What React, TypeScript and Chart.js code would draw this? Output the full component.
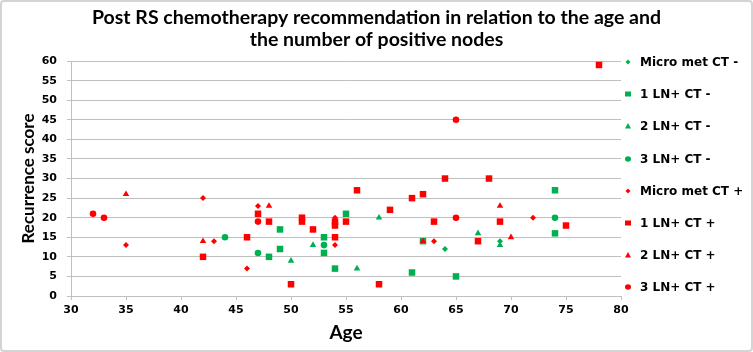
import React, { useEffect, useRef } from 'react';
import { Chart, registerables } from 'chart.js';

Chart.register(...registerables);

// ---------- Data ----------
const TITLE_LINES = [
  'Post RS chemotherapy recommendation in relation to the age and',
  'the number of positive nodes',
];
const X_TITLE = 'Age';
const Y_TITLE = 'Recurrence score';
const X_MIN = 30;
const X_MAX = 80;
const X_STEP = 5;
const Y_MIN = 0;
const Y_MAX = 60;
const Y_STEP = 5;

const SERIES_LABELS = [
  'Micro met CT -',
  '1 LN+ CT -',
  '2 LN+ CT -',
  '3 LN+ CT -',
  'Micro met CT +',
  '1 LN+ CT +',
  '2 LN+ CT +',
  '3 LN+ CT +',
];

const microNegAge = [54, 64, 69];
const microNegRS = [18, 12, 14];

const ln1NegAge = [48, 49, 49, 53, 53, 54, 55, 61, 62, 65, 74, 74];
const ln1NegRS = [10, 17, 12, 15, 11, 7, 21, 6, 14, 5, 27, 16];

const ln2NegAge = [50, 52, 56, 58, 67, 69];
const ln2NegRS = [9, 13, 7, 20, 16, 13];

const ln3NegAge = [44, 47, 53, 74];
const ln3NegRS = [15, 11, 13, 20];

const microPosAge = [35, 42, 43, 46, 47, 54, 54, 63, 72];
const microPosRS = [13, 25, 14, 7, 23, 20, 13, 14, 20];

const ln1PosAge = [42, 46, 47, 48, 50, 51, 51, 52, 54, 54, 54, 55, 56, 58, 59, 61, 62, 63, 64, 67, 68, 69, 75, 78];
const ln1PosRS = [10, 15, 21, 19, 3, 20, 19, 17, 19, 18, 15, 19, 27, 3, 22, 25, 26, 19, 30, 14, 30, 19, 18, 59];

const ln2PosAge = [35, 42, 48, 62, 69, 70];
const ln2PosRS = [26, 14, 23, 14, 23, 15];

const ln3PosAge = [32, 33, 47, 65, 65];
const ln3PosRS = [21, 20, 19, 45, 20];

const SERIES_AGES = [microNegAge, ln1NegAge, ln2NegAge, ln3NegAge, microPosAge, ln1PosAge, ln2PosAge, ln3PosAge];
const SERIES_RS = [microNegRS, ln1NegRS, ln2NegRS, ln3NegRS, microPosRS, ln1PosRS, ln2PosRS, ln3PosRS];

// ---------- Styles ----------
const GREEN = '#00B050';
const RED = '#FF0000';
const SERIES_COLORS = [GREEN, GREEN, GREEN, GREEN, RED, RED, RED, RED];
const SERIES_SHAPES = ['rectRot', 'rect', 'triangle', 'circle', 'rectRot', 'rect', 'triangle', 'circle'];
const SHAPE_RADIUS: Record<string, number> = { rectRot: 3, rect: 4.6, triangle: 3.8, circle: 3.3 };

const W = 753;
const H = 352;

function LegendMarker({ shape, color }: { shape: string; color: string }) {
  let el: React.ReactNode = null;
  if (shape === 'rectRot') el = <polygon points="5,2.5 7.5,5 5,7.5 2.5,5" fill={color} />;
  else if (shape === 'rect') el = <rect x={2} y={2.5} width={6} height={5} fill={color} />;
  else if (shape === 'triangle') el = <polygon points="5,2 8,7.5 2,7.5" fill={color} />;
  else el = <ellipse cx={5} cy={5} rx={3} ry={2.8} fill={color} />;
  return (
    <svg width={10} height={10} style={{ display: 'block' }}>
      {el}
    </svg>
  );
}

export default function App() {
  const canvasRef = useRef<HTMLCanvasElement | null>(null);

  useEffect(() => {
    document.body.style.margin = '0';
    const canvas = canvasRef.current;
    if (!canvas) return;
    const datasets = SERIES_LABELS.map((label, i) => ({
      label,
      data: SERIES_AGES[i].map((a, j) => ({ x: a, y: SERIES_RS[i][j] })),
      pointStyle: SERIES_SHAPES[i] as any,
      pointRadius: SHAPE_RADIUS[SERIES_SHAPES[i]],
      pointHoverRadius: SHAPE_RADIUS[SERIES_SHAPES[i]],
      backgroundColor: SERIES_COLORS[i],
      borderColor: SERIES_COLORS[i],
      borderWidth: 0,
      showLine: false,
      order: i < 4 ? 1 : 0,
    }));

    const chart = new Chart(canvas, {
      type: 'scatter',
      data: { datasets },
      options: {
        responsive: false,
        animation: false,
        devicePixelRatio: 1,
        layout: { padding: { left: 0, right: 0, top: 0, bottom: 0 } },
        plugins: {
          legend: { display: false },
          tooltip: { enabled: false },
          title: {
            display: true,
            text: TITLE_LINES,
            color: '#000',
            font: { family: 'Lato', size: 19.5, weight: 'bold', lineHeight: 1.13 },
            padding: { top: 7, bottom: 10 },
          },
        },
        scales: {
          x: {
            type: 'linear',
            min: X_MIN,
            max: X_MAX,
            afterFit: (scale: any) => {
              scale.height = 56;
            },
            ticks: {
              stepSize: X_STEP,
              color: '#000',
              padding: 4,
              font: { family: 'DejaVu Sans', size: 11, weight: 'bold' },
            },
            grid: {
              drawOnChartArea: false,
              drawTicks: true,
              tickLength: 4,
              color: '#BFBFBF',
            },
            border: { display: true, color: '#BFBFBF', width: 1 },
            title: {
              display: true,
              text: X_TITLE,
              color: '#000',
              font: { family: 'Lato', size: 19, weight: 'bold', lineHeight: 1.2 },
              padding: { top: 0, bottom: 8 },
            },
          },
          y: {
            type: 'linear',
            min: Y_MIN,
            max: Y_MAX,
            afterFit: (scale: any) => {
              scale.width = 71;
            },
            ticks: {
              stepSize: Y_STEP,
              color: '#000',
              padding: 10,
              font: { family: 'DejaVu Sans', size: 11, weight: 'bold' },
            },
            grid: {
              drawOnChartArea: true,
              drawTicks: true,
              tickLength: 4,
              color: '#BFBFBF',
            },
            border: { display: true, color: '#BFBFBF', width: 1 },
            title: {
              display: true,
              text: Y_TITLE,
              color: '#000',
              font: { family: 'Lato', size: 17, weight: 'bold', lineHeight: 1.2 },
              padding: { top: 18, bottom: 0 },
            },
          },
          legendSpace: {
            type: 'linear',
            position: 'right',
            min: Y_MIN,
            max: Y_MAX,
            afterFit: (scale: any) => {
              scale.width = 132;
            },
            ticks: { display: false },
            grid: { display: false, drawTicks: false },
            border: { display: false },
            title: { display: false },
          },
        },
      },
    });
    return () => chart.destroy();
  }, []);

  return (
    <div style={{ position: 'relative', width: W, height: H, background: '#fff', overflow: 'hidden' }}>
      <canvas ref={canvasRef} width={W} height={H} style={{ position: 'absolute', left: 0, top: 0, width: W, height: H }} />
      {SERIES_LABELS.map((label, i) => (
        <div
          key={label}
          style={{
            position: 'absolute',
            left: 623,
            top: 62 + i * 32.2 - 8,
            height: 16,
            display: 'flex',
            alignItems: 'center',
            whiteSpace: 'nowrap',
            fontFamily: '"DejaVu Sans", sans-serif',
            fontWeight: 'bold',
            fontSize: 12,
            color: '#000',
          }}
        >
          <LegendMarker shape={SERIES_SHAPES[i]} color={SERIES_COLORS[i]} />
          <span style={{ marginLeft: 7 }}>{label}</span>
        </div>
      ))}
      <div
        style={{
          position: 'absolute',
          left: 0,
          top: 0,
          width: W,
          height: H,
          boxSizing: 'border-box',
          border: '2px solid #D4D4D4',
          borderRadius: 4,
          pointerEvents: 'none',
        }}
      />
    </div>
  );
}
